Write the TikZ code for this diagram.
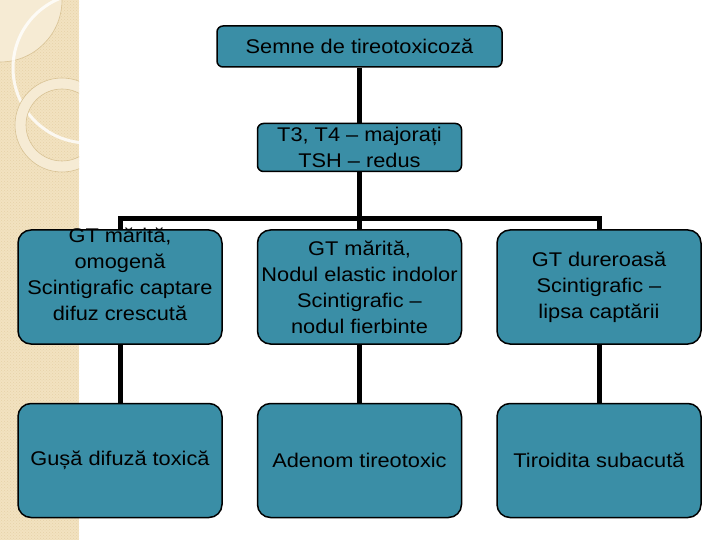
\documentclass[tikz,border=0pt]{standalone}
\usepackage{fontspec}
\setmainfont{Liberation Sans}[FakeStretch=1.1]
\usepackage{tikz}
\usetikzlibrary{positioning, patterns}

\definecolor{teal box}{HTML}{3A8EA6}
\definecolor{strip}{HTML}{F2E2C0}
\definecolor{strip dot}{HTML}{E6D2A8}
\definecolor{strip line}{HTML}{D8C294}
\definecolor{strip light}{HTML}{F6EBD4}

\begin{document}
\begin{tikzpicture}[
  x=1pt, y=-1pt,
  boxtext/.style={
    align=center, text=black,
    font=\fontsize{19.8}{26}\selectfont
  },
  box/.style={
    boxtext,
    rectangle, draw=black, line width=1.5pt, fill=teal box,
    rounded corners=13pt,
    minimum width=204pt, minimum height=114pt
  },
  hbox/.style={
    box, rounded corners=6pt
  },
  link/.style={line width=5pt, black}
]
  \useasboundingbox (0,0) rectangle (720,540);

  % left decorative strip
  \fill[strip] (0,0) rectangle (79,540);
  \fill[pattern=crosshatch dots, pattern color=strip dot] (0,0) rectangle (79,540);
  \begin{scope}
    \clip (0,0) rectangle (79,540);
    \fill[strip light, draw=strip line, line width=0.6pt] (0,0) circle[radius=62pt];
    \draw[white, line width=3pt, opacity=0.8] (88,68) circle[radius=75pt];
    \fill[strip light, even odd rule] (62,125) circle[radius=47pt] (62,125) circle[radius=36pt];
    \draw[strip line, line width=0.6pt] (62,125) circle[radius=47pt];
    \draw[strip line, line width=0.6pt] (62,125) circle[radius=36pt];
  \end{scope}

  \node[hbox, minimum width=285pt, minimum height=41pt] (top) at (359.5,46.5)
    {Semne de tireotoxicoză};
  \node[hbox, minimum height=48pt, below=55pt of top] (mid)
    {T3, T4 – majorați\\TSH – redus};

  \node[box, below=57pt of mid] (gb)
    {GT mărită,\\Nodul elastic indolor\\Scintigrafic –\\nodul fierbinte};
  \node[box, left=34pt of gb] (ga) {};
  \node[boxtext] (ga-text) at ([yshift=13pt]ga.center)
    {GT mărită,\\omogenă\\Scintigrafic captare\\difuz crescută};
  \node[box, right=34pt of gb] (gc)
    {GT dureroasă\\Scintigrafic –\\lipsa captării};

  \node[box, below=58pt of ga] (toxic)  {Gușă difuză toxică};
  \node[box, below=58pt of gb] (adenom) {Adenom tireotoxic};
  \node[box, below=58pt of gc] (tiro)   {Tiroidita subacută};

  \coordinate (bus) at (360,219);

  \draw[link] (top) -- (mid);
  \draw[link] (mid) -- (gb);
  \draw[link] (ga.north) |- (bus) -| (gc.north);
  \draw[link] (ga) -- (toxic);
  \draw[link] (gb) -- (adenom);
  \draw[link] (gc) -- (tiro);
\end{tikzpicture}
\end{document}
